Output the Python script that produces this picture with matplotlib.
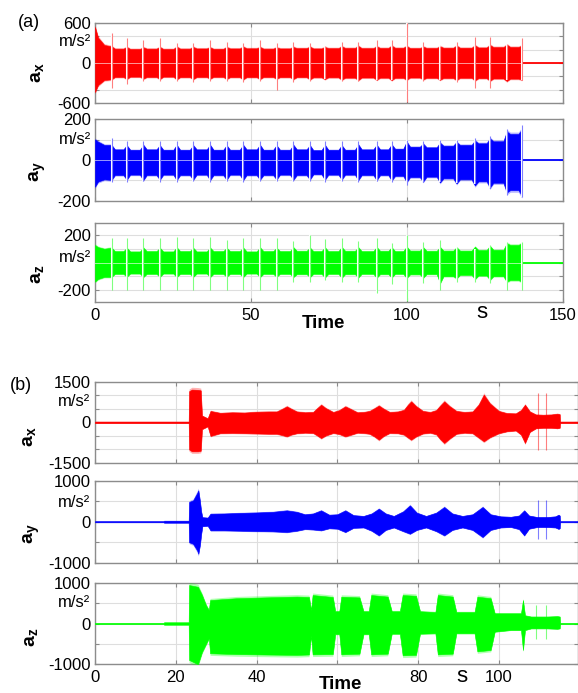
import numpy as np
import matplotlib.pyplot as plt
from matplotlib import transforms

plt.rcParams['font.family'] = ['Liberation Sans', 'DejaVu Sans']
plt.rcParams['mathtext.fontset'] = 'custom'
plt.rcParams['mathtext.rm'] = 'Liberation Sans'
plt.rcParams['mathtext.bf'] = 'Liberation Sans:bold'
plt.rcParams['mathtext.it'] = 'Liberation Sans:italic'

# ---------------- (a) data ----------------
# spike instants (last one = end of recording), s
ta_spk = [5.3, 10.2, 15.5, 20.8, 26.2, 31.5, 36.9, 42.2, 47.5, 52.9,
          58.2, 63.6, 68.9, 73.7, 79.1, 84.4, 90.3, 95.1, 99.9, 105.2,
          110.6, 115.9, 121.8, 126.6, 132.0, 136.8]
# start-up transient before the first spike
ta_init = [0, 1.0, 3.0]

# a_x : init, level next to each spike, plateau level inside each segment
ax_init_up = [540, 380, 270]
ax_init_lo = [-435, -330, -255]
ax_edge_up = [250, 240, 235, 240, 245, 240, 235, 240, 245, 240, 235, 240, 245,
              240, 250, 255, 250, 260, 255, 245, 250, 260, 265, 270, 275, 260]
ax_plat_up = [215, 210, 215, 210, 215, 218, 212, 218, 220, 215, 218, 222, 218,
              222, 225, 222, 225, 228, 222, 225, 228, 228, 232, 238, 240]
ax_edge_lo = [-245, -240, -235, -240, -245, -240, -235, -240, -245, -240, -235, -240, -245,
              -240, -250, -255, -250, -255, -250, -245, -250, -255, -260, -265, -270, -250]
ax_plat_lo = [-210, -205, -210, -205, -212, -210, -208, -212, -212, -210, -212, -212, -215,
              -215, -220, -218, -220, -222, -218, -222, -225, -222, -228, -232, -235]
ax_spk_up = [445, 370, 345, 370, 295, 295, 345, 320, 295, 345, 300, 310, 295,
             250, 320, 320, 345, 345, 600, 320, 260, 320, 395, 395, 290, 370]
ax_spk_lo = [-380, -320, -270, -270, -270, -285, -270, -270, -285, -270, -405, -280, -270,
             -240, -270, -270, -255, -255, -580, -270, -255, -285, -380, -370, -255, -260]

# a_y
ay_init_up = [101, 90, 74]
ay_init_lo = [-131, -106, -95]
ay_edge_up = [74, 72, 74, 72, 74, 72, 74, 72, 74, 74, 72, 74, 72,
              74, 72, 76, 74, 76, 90, 80, 85, 88, 95, 106, 140, 150]
ay_plat_up = [52, 50, 52, 50, 50, 52, 50, 50, 52, 50, 50, 52, 48,
              50, 50, 52, 52, 55, 65, 62, 70, 74, 82, 92, 128]
ay_edge_lo = [-98, -96, -98, -96, -98, -96, -98, -96, -98, -96, -95, -96, -95,
              -96, -95, -98, -98, -100, -108, -105, -110, -115, -125, -135, -160, -175]
ay_plat_lo = [-74, -72, -74, -72, -74, -72, -74, -72, -74, -74, -72, -74, -70,
              -72, -72, -74, -74, -78, -84, -82, -90, -95, -105, -112, -148]
ay_spk_up = [106, 95, 92, 95, 95, 92, 95, 92, 95, 92, 92, 92, 92,
             95, 92, 95, 92, 95, 100, 95, 98, 100, 110, 118, 150, 172]
ay_spk_lo = [-108, -106, -104, -106, -106, -104, -106, -104, -106, -104, -104, -104, -104,
             -106, -104, -106, -104, -106, -123, -106, -110, -112, -120, -139, -172, -183]

# a_z
az_init_up = [127, 112, 100]
az_init_lo = [-139, -120, -105]
az_edge_up = [108, 106, 108, 106, 110, 106, 108, 106, 108, 110, 106, 110, 108,
              110, 112, 110, 112, 110, 115, 110, 112, 110, 115, 120, 140, 140]
az_plat_up = [82, 80, 82, 80, 82, 80, 82, 82, 80, 82, 82, 84, 82,
              82, 84, 82, 84, 82, 86, 84, 86, 86, 90, 92, 128]
az_edge_lo = [-105, -103, -105, -103, -105, -103, -105, -103, -105, -105, -103, -105, -105,
              -108, -110, -108, -110, -108, -112, -110, -150, -115, -120, -125, -140, -140]
az_plat_lo = [-82, -80, -82, -80, -82, -80, -82, -82, -80, -82, -82, -84, -82,
              -82, -84, -82, -84, -82, -86, -84, -100, -90, -95, -100, -128]
az_spk_up = [175, 175, 175, 175, 185, 175, 185, 165, 175, 175, 175, 160, 200,
             170, 175, 160, 175, 140, 200, 150, 165, 110, 100, 130, 150, 150]
az_spk_lo = [-200, -200, -200, -200, -200, -200, -200, -200, -200, -200, -200, -139, -139,
             -130, -139, -139, -224, -160, -284, -150, -200, -140, -140, -150, -200, -200]

# ---------------- (b) data: (time, upper, lower) envelope knots ----------------
bx_env = [(0, 30, -30), (23.2, 30, -30), (23.3, 1150, -1000), (24.0, 1210, -1070),
          (25.5, 1200, -1070), (26.2, 1180, -1050), (26.5, 250, -250), (27.9, 150, -150),
          (28.6, 420, -500), (31, 350, -400), (34, 370, -390), (37, 360, -400),
          (40, 390, -410), (43, 400, -420), (45, 400, -420), (46.4, 500, -470),
          (47.5, 590, -516), (48.6, 500, -450), (50, 400, -400), (52, 370, -380),
          (54, 380, -390), (55, 520, -480), (56, 650, -580), (57.2, 520, -480),
          (59, 380, -390), (60.5, 450, -430), (62, 590, -516), (63.5, 480, -450),
          (65, 370, -380), (66.5, 380, -390), (68, 420, -420), (69.2, 520, -520),
          (70.3, 620, -640), (71.5, 500, -500), (73, 380, -390), (75, 400, -400),
          (76.5, 460, -450), (77.5, 650, -560), (78.3, 775, -640), (79.5, 600, -520),
          (81.2, 420, -410), (83, 380, -380), (84.5, 450, -440), (85.5, 620, -620),
          (86.5, 775, -762), (87.8, 600, -600), (89.5, 420, -420), (91.5, 380, -380),
          (93.5, 400, -400), (95, 650, -560), (96.3, 1020, -700), (97.8, 700, -550),
          (100, 420, -400), (102, 340, -330), (104.2, 330, -300), (105.5, 450, -450),
          (106.5, 650, -762), (107.7, 400, -350), (109.2, 290, -220), (111, 280, -200),
          (113, 290, -200), (114.5, 320, -220), (115.1, 300, -200), (115.2, 30, -30),
          (119.5, 30, -30)]
bx_spk = [109.7, 111.8]
bx_spk_up = [1084, 1084]
bx_spk_lo = [-1008, -1008]

by_env = [(0, 15, -15), (17, 15, -15), (17.1, 25, -25), (23.2, 25, -25),
          (23.3, 480, -500), (24.3, 520, -540), (25.3, 700, -700), (25.6, 764, -781),
          (26.0, 500, -560), (26.3, 250, -300), (26.6, 110, -110), (27.9, 100, -100),
          (28.6, 195, -212), (32, 200, -212), (36, 215, -220), (40, 225, -230),
          (44, 240, -235), (47.5, 276, -252), (50, 240, -220), (52, 180, -180),
          (54, 200, -190), (56, 276, -211), (58, 170, -160), (60, 180, -170),
          (62, 276, -252), (64, 160, -150), (66.5, 140, -140), (68.5, 200, -220),
          (70.3, 317, -333), (72, 200, -200), (74, 140, -140), (76.3, 250, -230),
          (78, 398, -293), (79.7, 220, -200), (82, 140, -140), (84.5, 220, -230),
          (86.5, 358, -333), (88.5, 200, -200), (91, 140, -140), (93.5, 180, -200),
          (96, 358, -374), (98, 180, -200), (100.5, 130, -140), (103, 120, -130),
          (105, 150, -180), (106.3, 276, -333), (107.5, 150, -170), (109.5, 114, -130),
          (112, 114, -130), (114, 130, -140), (114.8, 170, -175), (115.1, 150, -160),
          (115.2, 15, -15), (119.5, 15, -15)]
by_spk = [109.7, 111.8]
by_spk_up = [520, 520]
by_spk_lo = [-415, -415]

bz_env = [(0, 15, -15), (17, 15, -15), (17.1, 30, -30), (23.2, 30, -30),
          (23.3, 943, -894), (25.5, 900, -1000), (26.5, 700, -700), (27.5, 450, -500),
          (28.2, 330, -363), (28.5, 575, -730), (35, 620, -750), (42, 640, -760),
          (50, 660, -770), (53.0, 650, -760), (53.5, 330, -300), (53.9, 698, -757),
          (58.9, 650, -750), (59.5, 300, -260), (60.5, 300, -260), (61.0, 657, -757),
          (65.5, 640, -740), (66.5, 300, -260), (67.8, 300, -260), (68.4, 698, -757),
          (72.5, 660, -740), (73.5, 300, -250), (75.5, 300, -250), (76.2, 698, -780),
          (79.5, 680, -770), (80.5, 300, -250), (84.3, 280, -240), (84.9, 698, -757),
          (88.6, 660, -740), (89.5, 280, -240), (94, 280, -240), (94.7, 657, -683),
          (98, 620, -650), (99, 250, -200), (103, 250, -160), (105.5, 250, -160),
          (106, 575, -650), (106.5, 200, -160), (108, 170, -120), (112, 170, -120),
          (114.5, 180, -130), (115.1, 170, -120), (115.2, 15, -15), (119.5, 15, -15)]
bz_spk = [109.3, 111.8]
bz_spk_up = [453, 453]
bz_spk_lo = [-380, -380]

W, H = 578, 693
fig = plt.figure(figsize=(W / 100, H / 100), dpi=100)


def px_axes(left, top, right, bottom):
    return fig.add_axes([left / W, 1 - bottom / H, (right - left) / W, (bottom - top) / H])


def fig_text(x, y, s, **kw):
    fig.text(x / W, 1 - y / H, s, ha='center', va='center', **kw)


def seg_env(t0, v0, spk, edge, plat, d=1.1):
    # knots: spike -> plateau a little after -> plateau a little before next spike
    t = list(t0)
    v = list(v0)
    for i in range(len(plat)):
        t += [spk[i], spk[i] + d, spk[i + 1] - d]
        v += [edge[i], plat[i], plat[i]]
    t.append(spk[-1])
    v.append(edge[-1])
    return np.array(t), np.array(v, dtype=float)


def style(ax, xlim, xt, ylim, yt, ylabels, unit_y):
    ax.set_xlim(xlim)
    ax.set_ylim(ylim)
    ax.set_xticks(xt)
    ax.set_yticks(yt)
    ax.set_yticklabels(ylabels)
    ax.set_xticklabels([])
    ax.grid(True, color='#dedede', lw=0.8)
    ax.set_axisbelow(True)
    ax.tick_params(direction='in', length=3, color='#8a8a8a', top=True, right=True,
                   labelsize=12, pad=3)
    for s in ax.spines.values():
        s.set_color('#8c8c8c')
        s.set_linewidth(1.0)
    tr = transforms.blended_transform_factory(ax.transAxes, ax.transData)
    ax.text(-0.009, unit_y, 'm/s²', transform=tr, ha='right', va='center', fontsize=12)


def draw(ax, t, up, lo, color, t_end, x_end, spk, s_up, s_lo, gaps=False):
    up = np.asarray(up, dtype=float)
    lo = np.asarray(lo, dtype=float)
    ax.fill_between(t, lo * 1.07, up * 1.07, color=color, lw=0, alpha=0.3, zorder=3)
    ax.fill_between(t, lo, up, color=color, lw=0.4, zorder=3)
    ax.plot([t_end, x_end], [0, 0], color=color, lw=1.3, zorder=3)
    if gaps:
        ax.plot([0, t_end], [0, 0], color='white', lw=0.7, alpha=0.6, zorder=4)
        ax.vlines(spk, s_lo, s_up, color='white', lw=1.5, zorder=4)
    ax.vlines(spk, s_lo, s_up, color=color, lw=0.8, alpha=0.5, zorder=5)


# ---------------- (a) ----------------
L, Ra = 95, 563
a1 = px_axes(L, 23, Ra, 103)
a2 = px_axes(L, 119.3, Ra, 200.7)
a3 = px_axes(L, 222.7, Ra, 302.3)

ta_end = ta_spk[-1]
for ax, iu, il, eu, pu, el, pl, su, sl, col in [
        (a1, ax_init_up, ax_init_lo, ax_edge_up, ax_plat_up, ax_edge_lo, ax_plat_lo,
         ax_spk_up, ax_spk_lo, '#ff0000'),
        (a2, ay_init_up, ay_init_lo, ay_edge_up, ay_plat_up, ay_edge_lo, ay_plat_lo,
         ay_spk_up, ay_spk_lo, '#0000ff'),
        (a3, az_init_up, az_init_lo, az_edge_up, az_plat_up, az_edge_lo, az_plat_lo,
         az_spk_up, az_spk_lo, '#00ff00')]:
    t, up = seg_env(ta_init, iu, ta_spk, eu, pu)
    _, lo = seg_env(ta_init, il, ta_spk, el, pl)
    draw(ax, t, up, lo, col, ta_end, 150, ta_spk, su, sl, gaps=True)

xa = [0, 50, 100, 150]
style(a1, (0, 150), xa, (-600, 600), [-600, -400, -200, 0, 200, 400, 600],
      ['-600', '', '', '0', '', '', '600'], 315)
style(a2, (0, 150), xa, (-200, 200), [-200, -100, 0, 100, 200],
      ['-200', '', '0', '', '200'], 103)
style(a3, (0, 150), xa, (-290, 290), [-200, -100, 0, 100, 200],
      ['-200', '', '', '', '200'], 40)
a3.set_xticklabels(['0', '50', '100', '150'])
a3.tick_params(axis='x', pad=4)

fig_text(28.5, 22.5, '(a)', fontsize=13)
fig_text(38, 73, r'$\mathbf{a_x}$', rotation=90, fontsize=14)
fig_text(38, 172, r'$\mathbf{a_y}$', rotation=90, fontsize=14)
fig_text(38, 274, r'$\mathbf{a_z}$', rotation=90, fontsize=14)
fig_text(323, 324, 'Time', fontsize=13.5, fontweight='bold')
fig_text(482, 312, 's', fontsize=16)

# ---------------- (b) ----------------
Rb = 577.5
b1 = px_axes(L, 381.7, Rb, 463)
b2 = px_axes(L, 480.7, Rb, 562.7)
b3 = px_axes(L, 582.7, Rb, 664.3)

for ax, env, col, spk, su, sl in [(b1, bx_env, '#ff0000', bx_spk, bx_spk_up, bx_spk_lo),
                                  (b2, by_env, '#0000ff', by_spk, by_spk_up, by_spk_lo),
                                  (b3, bz_env, '#00ff00', bz_spk, bz_spk_up, bz_spk_lo)]:
    t, up, lo = (np.array(c, dtype=float) for c in zip(*env))
    draw(ax, t, up, lo, col, t[-1], 119.5, spk, su, sl)

xb = [0, 20, 40, 60, 80, 100]
style(b1, (0, 119.5), xb, (-1500, 1500), [-1500, -1000, -500, 0, 500, 1000, 1500],
      ['-1500', '', '', '0', '', '', '1500'], 780)
style(b2, (0, 119.5), xb, (-1000, 1000), [-1000, -500, 0, 500, 1000],
      ['-1000', '', '0', '', '1000'], 478)
style(b3, (0, 119.5), xb, (-1000, 1000), [-1000, -500, 0, 500, 1000],
      ['-1000', '', '0', '', '1000'], 510)
b3.set_xticklabels(['0', '20', '40', '', '80', '100'])
b3.tick_params(axis='x', pad=4)

fig_text(20.5, 385, '(b)', fontsize=13)
fig_text(30, 437, r'$\mathbf{a_x}$', rotation=90, fontsize=14)
fig_text(32, 534, r'$\mathbf{a_y}$', rotation=90, fontsize=14)
fig_text(32, 637, r'$\mathbf{a_z}$', rotation=90, fontsize=14)
fig_text(340, 684.5, 'Time', fontsize=13.5, fontweight='bold')
fig_text(462, 676, 's', fontsize=16)

fig.savefig('out.png', dpi=100)
